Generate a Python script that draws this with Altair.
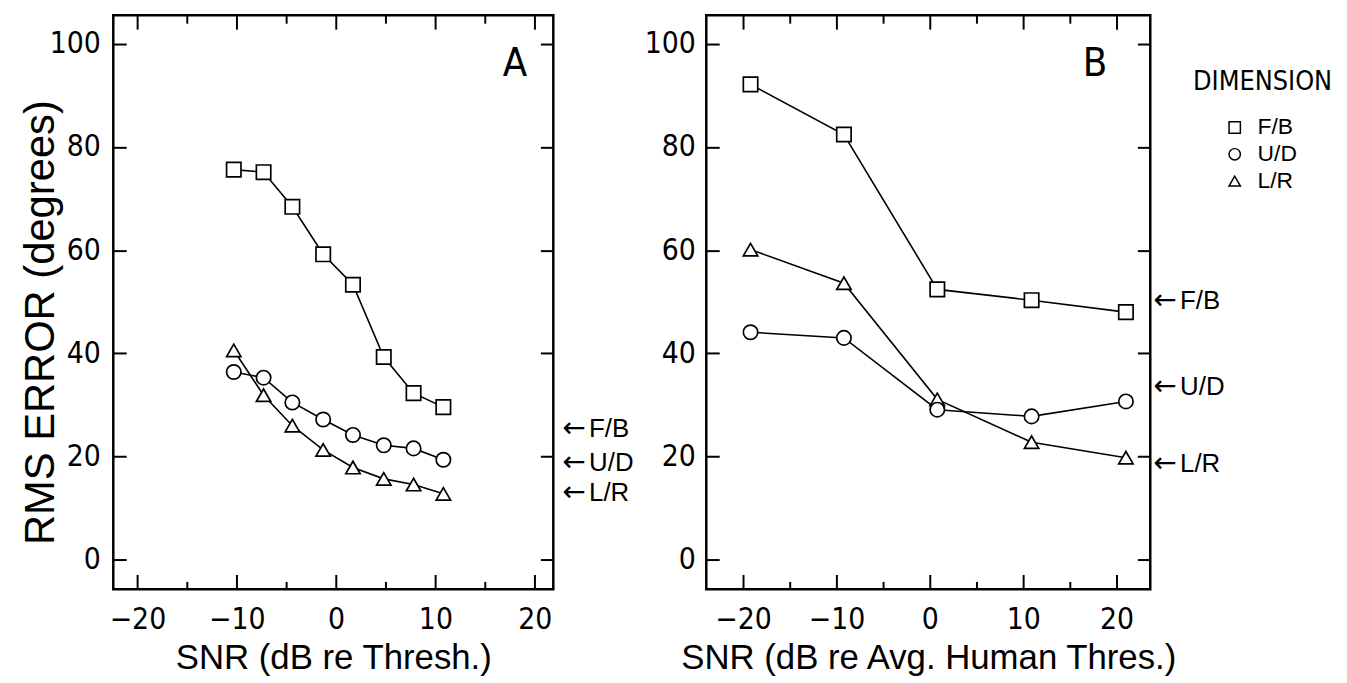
import altair as alt
import pandas as pd

# ---------------- data ----------------
DIMS = ["F/B", "U/D", "L/R"]
SHAPES = ["square", "circle", "triangle-up"]
DRAW_ORDER = ["F/B", "L/R", "U/D"]
LEGEND_TITLE = "DIMENSION"

A_SNR = [-10.3, -7.3, -4.4, -1.3, 1.7, 4.8, 7.8, 10.8]
A_FB = [75.6, 75.1, 68.4, 59.2, 53.3, 39.3, 32.3, 29.6]
A_UD = [36.4, 35.3, 30.5, 27.2, 24.2, 22.2, 21.6, 19.4]
A_LR = [40.6, 31.9, 26.0, 21.3, 17.9, 15.7, 14.6, 12.8]
A_ARROWS = [25.4, 18.7, 12.9]  # F/B, U/D, L/R reference levels

B_SNR = [-19.2, -9.2, 0.8, 10.9, 21.0]
B_FB = [92.1, 82.4, 52.4, 50.3, 48.0]
B_UD = [44.1, 43.0, 29.1, 27.8, 30.7]
B_LR = [60.1, 53.6, 31.1, 22.8, 19.8]
B_ARROWS = [50.2, 33.5, 18.5]

Y_TICKS = [0, 20, 40, 60, 80, 100]
X_MAJOR = [-20, -10, 0, 10, 20]
X_MINOR = [-15, -5, 5, 15]

A_XDOM = [-22.43, 21.87]
B_XDOM = [-23.94, 23.61]
YDOM = [-5.7, 105.5]

A_TITLE_X = "SNR (dB re Thresh.)"
B_TITLE_X = "SNR (dB re Avg. Human Thres.)"
Y_TITLE = "RMS ERROR (degrees)"
ARROW = "\u2190"

# ---------------- styling ----------------
NARROW = "Liberation Sans Narrow, Arial Narrow, DejaVu Sans Condensed, sans-serif"
REG = "Liberation Sans, Arial, sans-serif"
H = 578
A_W = 443
B_W = 447
TICK_W = 2


def ax_bottom_major(title):
    return alt.Axis(orient="bottom", values=X_MAJOR, tickSize=15, offset=-15,
                    domain=False, grid=False, labelPadding=15, labelFont=NARROW,
                    labelFontSize=30, title=title, titleFont=REG, titleFontSize=35,
                    titleFontWeight="normal", titlePadding=7, tickWidth=TICK_W,
                    tickColor="black", labelColor="black", titleColor="black")


def ax_x_plain(orient, values, size):
    return alt.Axis(orient=orient, values=values, tickSize=size, offset=-size,
                    domain=False, grid=False, labels=False, title=None,
                    tickWidth=TICK_W, tickColor="black")


def ax_left(title, lpad):
    kw = dict(orient="left", values=Y_TICKS, tickSize=13, offset=-13, domain=False,
              grid=False, labelPadding=lpad, labelFont=NARROW, labelFontSize=30,
              tickWidth=TICK_W, tickColor="black", labelColor="black")
    if title:
        kw.update(title=title, titleFont=REG, titleFontSize=42, titleFontWeight="normal",
                  titleColor="black", titleBaseline="alphabetic", titleX=-73, titleY=309)
    else:
        kw.update(title=None)
    return alt.Axis(**kw)


def ax_right():
    return alt.Axis(orient="right", values=Y_TICKS, tickSize=13, offset=-13, domain=False,
                    grid=False, labels=False, title=None, tickWidth=TICK_W, tickColor="black")


SHAPE_SCALE = alt.Scale(domain=DIMS, range=SHAPES)


def panel(snr, series, arrows, xdom, width, xtitle, ytitle, lpad, letter, letter_xy,
          arrow_gap):
    rows = []
    for d in DRAW_ORDER:
        for x, y in zip(snr, series[d]):
            rows.append({"snr": x, "rms": y, "dim": d})
    df = pd.DataFrame(rows)
    xs = alt.Scale(domain=xdom, nice=False, zero=False)
    ys = alt.Scale(domain=YDOM, nice=False, zero=False)
    base = alt.Chart(df)

    lines = base.mark_line(color="black", strokeWidth=1.6).encode(
        x=alt.X("snr:Q", scale=xs, axis=ax_bottom_major(xtitle)),
        y=alt.Y("rms:Q", scale=ys, axis=ax_left(ytitle, lpad)),
        detail="dim:N",
    )
    minor_b = base.mark_point(opacity=0).encode(
        x=alt.X("snr:Q", scale=xs, axis=ax_x_plain("bottom", X_MINOR, 8)),
        y=alt.Y("rms:Q", scale=ys, axis=None),
    )
    minor_t = base.mark_point(opacity=0).encode(
        x=alt.X("snr:Q", scale=xs, axis=ax_x_plain("top", X_MINOR, 8)),
        y=alt.Y("rms:Q", scale=ys, axis=None),
    )
    points = base.mark_point(filled=True, fill="white", stroke="black", strokeWidth=1.7,
                             size=210, opacity=1).encode(
        x=alt.X("snr:Q", scale=xs, axis=ax_x_plain("top", X_MAJOR, 14)),
        y=alt.Y("rms:Q", scale=ys, axis=ax_right()),
        shape=alt.Shape("dim:N", scale=SHAPE_SCALE, legend=None),
    )
    adf = pd.DataFrame({"dim": DIMS, "val": arrows, "arrow": [ARROW] * 3})
    arrow_layer = alt.Chart(adf).mark_text(align="left", baseline="middle",
                                           font="DejaVu Sans", fontSize=28,
                                           color="black").encode(
        x=alt.value(width + arrow_gap),
        y=alt.Y("val:Q", scale=ys, axis=None),
        text="arrow:N",
    )
    alabel_layer = alt.Chart(adf).mark_text(align="left", baseline="middle", font=REG,
                                            fontSize=26, color="black").encode(
        x=alt.value(width + arrow_gap + 27),
        y=alt.Y("val:Q", scale=ys, axis=None),
        text="dim:N",
    )
    ldf = pd.DataFrame({"snr": [letter_xy[0]], "rms": [letter_xy[1]], "t": [letter]})
    letter_layer = alt.Chart(ldf).mark_text(font=NARROW, fontSize=40, align="center",
                                            baseline="middle", color="black").encode(
        x=alt.X("snr:Q", scale=xs, axis=None),
        y=alt.Y("rms:Q", scale=ys, axis=None),
        text="t:N",
    )
    return alt.layer(lines, minor_b, minor_t, points, arrow_layer, alabel_layer,
                     letter_layer).resolve_axis(x="independent", y="independent")


# ---------------- legend (drawn beside panel B) ----------------
leg_df = pd.DataFrame({"dim": DIMS})
leg_y = alt.Y("dim:N", scale=alt.Scale(domain=DIMS, range=[113, 167], padding=0),
              axis=None)
leg_symbols = alt.Chart(leg_df).mark_point(filled=True, fill="white", stroke="black",
                                           strokeWidth=1.5, size=130, opacity=1).encode(
    x=alt.value(532), y=leg_y,
    shape=alt.Shape("dim:N", scale=SHAPE_SCALE, legend=None),
)
leg_labels = alt.Chart(leg_df).mark_text(font=REG, fontSize=23, align="left",
                                         baseline="middle", color="black").encode(
    x=alt.value(555), y=leg_y, text="dim:N",
)
leg_title = alt.Chart(pd.DataFrame({"t": [LEGEND_TITLE]})).mark_text(
    font=NARROW, fontSize=27, align="left", baseline="middle", color="black").encode(
    x=alt.value(490), y=alt.value(67), text="t:N")
legend_layer = alt.layer(leg_symbols, leg_labels, leg_title)

panel_a = panel(A_SNR, {"F/B": A_FB, "U/D": A_UD, "L/R": A_LR}, A_ARROWS, A_XDOM, A_W,
                A_TITLE_X, Y_TITLE, 13, "A", (18.0, 96), 9).properties(width=A_W, height=H)
panel_b_main = panel(B_SNR, {"F/B": B_FB, "U/D": B_UD, "L/R": B_LR}, B_ARROWS, B_XDOM,
                     B_W, B_TITLE_X, None, 11, "B", (17.7, 96), 3)
panel_b = alt.layer(panel_b_main, legend_layer).resolve_scale(
    y="independent").properties(width=B_W, height=H)

chart = alt.hconcat(panel_a, panel_b, spacing=154, bounds="flush").properties(
    padding={"left": 10, "top": 2, "right": 5, "bottom": 2},
    background="white",
).configure_view(stroke="black", strokeWidth=2.5)

chart.save("out.html", embed_options={"renderer": "svg", "actions": False})
